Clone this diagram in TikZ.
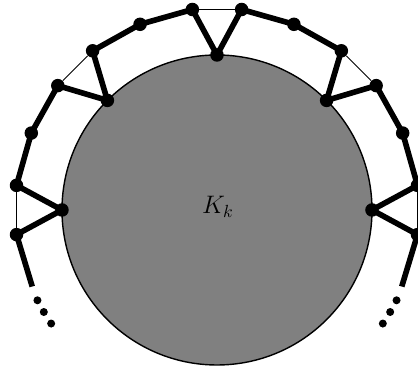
\documentclass[tikz,border=0pt]{standalone}
\usepackage{amsmath, amssymb}
\usetikzlibrary{positioning, calc}

\begin{document}
\begin{tikzpicture}[
		% Style for the clique disc
		clique/.style={
			circle, draw=black, line width=0.8pt, fill=gray, inner sep=0pt,
			minimum size=6.2cm
		},
		% Styles for the vertices
		vtx/.style={circle, fill=black, inner sep=0pt, minimum size=0.27cm},
		ellip/.style={circle, fill=black, inner sep=0pt, minimum size=0.16cm},
		% Styles for the edges
		heavy/.style={line width=3.2pt, line cap=round, line join=round},
		light/.style={line width=0.5pt}
		]
		
		\useasboundingbox (-4.34,-3.2) rectangle (4.02,4.2);
		
		% ==========================================
		% 1. THE CENTER: the clique K_k
		% ==========================================
		\node[clique] (K) at (0,0) {};
		\node[font=\Large] (Klabel) at (0.02,0.06) {$K_k$};
		
		% ==========================================
		% 2. Vertices of the clique with their outer pairs
		% ==========================================
		\foreach \a/\n in {0/r, 45/ur, 90/t, 135/ul, 180/l} {
			\node[vtx] (c\n) at (\a:3.1) {};
			\node[vtx] (\n a) at ({\a-7}:4.04) {};
			\node[vtx] (\n b) at ({\a+7}:4.04) {};
		}
		
		% Vertices half way between two pairs
		\node[vtx] (m1) at (22.5:4.02) {};
		\node[vtx] (m2) at (67.5:4.02) {};
		\node[vtx] (m3) at (112.5:4.02) {};
		\node[vtx] (m4) at (157.5:4.02) {};
		
		% Loose ends of the outer path
		\coordinate (endl) at (202.5:4.0);
		\coordinate (endr) at (-22.5:4.0);
		
		% ==========================================
		% 3. Edges
		% ==========================================
		\foreach \n in {r, ur, t, ul, l} {
			\draw[heavy] (\n a.center) -- (c\n.center) -- (\n b.center);
			\draw[light] (\n a) -- (\n b);
		}
		
		\draw[heavy] (rb.center) -- (m1.center) -- (ura.center);
		\draw[heavy] (urb.center) -- (m2.center) -- (ta.center);
		\draw[heavy] (tb.center) -- (m3.center) -- (ula.center);
		\draw[heavy] (ulb.center) -- (m4.center) -- (la.center);
		\draw[line width=3.2pt] (lb.center) -- (endl);
		\draw[line width=3.2pt] (ra.center) -- (endr);
		
		% ==========================================
		% 4. Dots for the rest of the path
		% ==========================================
		\node[ellip] (dl1) at (206.7:4.02) {};
		\node[ellip] (dl2) at (210.5:4.02) {};
		\node[ellip] (dl3) at (214.4:4.02) {};
		\node[ellip] (dr1) at (-26.7:4.02) {};
		\node[ellip] (dr2) at (-30.5:4.02) {};
		\node[ellip] (dr3) at (-34.4:4.02) {};
		
	\end{tikzpicture}
\end{document}
